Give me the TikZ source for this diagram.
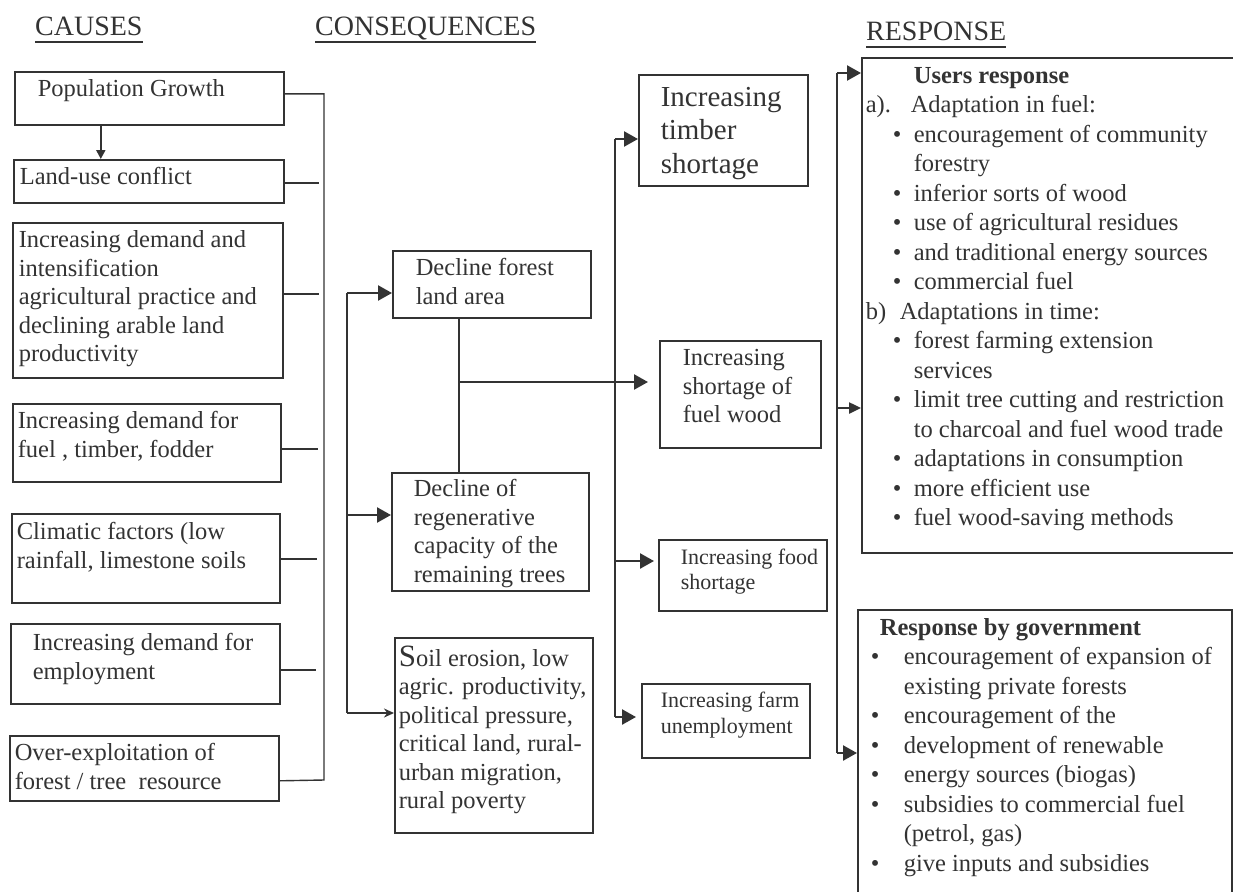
\documentclass[tikz,border=0pt]{standalone}
\usepackage{fontspec}
\setmainfont{Liberation Serif}
\usetikzlibrary{arrows.meta}
\definecolor{ink}{gray}{0.2}
\newcommand\bx[5]{\parbox[c][#2][t]{#1}{\raggedright\leftskip=#3\relax\vspace*{#4}\strut#5}}
\tikzset{
  box/.style={draw=ink, line width=1.6pt, inner sep=0pt, anchor=north west, text=ink,
              font=\fontsize{24.5}{28.5}\selectfont},
  hdr/.style={anchor=base west, inner sep=0pt, text=ink, font=\fontsize{28}{30}\selectfont},
  uline/.style={draw=ink, line width=1.6pt},
  cline/.style={draw=ink, line width=1.4pt},
  conn/.style={draw=ink, line width=2.4pt},
  arr/.style={conn, -{Triangle[length=14pt,width=15pt]}},
  arrm/.style={conn, -{Triangle[length=12pt,width=11pt]}},
  arrs/.style={draw=ink, line width=1.8pt, -{Stealth[length=10pt,width=9pt]}},
}
\begin{document}
\begin{tikzpicture}[x=1pt,y=-1pt]
\useasboundingbox (0,0) rectangle (1233,891);
\clip (0,0) rectangle (1233,891);
\fill[white] (0,0) rectangle (1233,891);

% headers
\node[hdr] (hcau) at (35,36) {CAUSES};
\node[hdr] (hcon) at (315,36) {CONSEQUENCES};
\node[hdr] (hres) at (866,41) {RESPONSE};
\draw[uline] ([yshift=-6pt]hcau.base west) -- ([yshift=-6pt]hcau.base east);
\draw[uline] ([yshift=-6pt]hcon.base west) -- ([yshift=-6pt]hcon.base east);
\draw[uline] ([yshift=-6pt]hres.base west) -- ([yshift=-6pt]hres.base east);

% causes
\node[box] (pop) at (14,71) {\bx{269pt}{53pt}{23pt}{5pt}{Population Growth}};
\node[box] (land) at (13,159) {\bx{270pt}{43pt}{6pt}{5pt}{Land-use conflict}};
\node[box] (dem) at (12,222) {\bx{270pt}{155pt}{6pt}{5pt}{Increasing demand and\\intensification\\agricultural practice and\\declining arable land\\productivity}};
\node[box] (fuel) at (12,403) {\bx{268pt}{78pt}{5pt}{5pt}{Increasing demand for\\fuel , timber, fodder}};
\node[box] (clim) at (11,513) {\bx{268pt}{89pt}{5pt}{6pt}{Climatic factors (low\\rainfall, limestone soils}};
\node[box] (emp) at (10,623) {\bx{269pt}{80pt}{22pt}{7pt}{Increasing demand for\\employment}};
\node[box] (over) at (9,735) {\bx{269pt}{65pt}{5pt}{5pt}{Over-exploitation of\\forest / tree\ \ resource}};

\coordinate (cbus) at (324,780);
\draw[cline] ([yshift=4.5pt]pop.east) -| (cbus) -- ([yshift=-12.5pt]over.east);
\draw[cline] ([yshift=-1.5pt]land.east) -- ++(34,0);
\draw[cline] ([yshift=6.5pt]dem.east) -- ++(35,0);
\draw[cline] ([yshift=-6pt]fuel.east) -- ++(36,0);
\draw[cline] ([yshift=-0.5pt]clim.east) -- ++(36,0);
\draw[cline] ([yshift=-6pt]emp.east) -- ++(35,0);
\draw[draw=ink, line width=2pt, -{Triangle[length=9pt,width=9pt]}] ([xshift=-48.5pt]pop.south) -- ([xshift=-48pt]land.north);

% consequences
\node[box] (dfl) at (392,250) {\bx{198pt}{67pt}{23pt}{5pt}{Decline forest\\land area}};
\node[box] (dreg) at (391,472) {\bx{197pt}{118pt}{22pt}{4pt}{Decline of\\regenerative\\capacity of the\\remaining trees}};
\node[box] (soil) at (394,637) {\bx{198pt}{195pt}{4pt}{8pt}{{\fontsize{31}{28.5}\selectfont S}oil erosion, low\\agric. productivity,\\political pressure,\\critical land, rural-\\urban migration,\\rural poverty}};
\node[box, font=\fontsize{29}{33.5}\selectfont] (timber) at (638,74) {\bx{169pt}{111pt}{22pt}{8pt}{Increasing\\timber\\shortage}};
\node[box] (fwood) at (659,340) {\bx{161pt}{107pt}{23pt}{5pt}{Increasing\\shortage of\\fuel wood}};
\node[box, font=\fontsize{22}{25}\selectfont] (food) at (658,539) {\bx{168pt}{71pt}{22pt}{7pt}{Increasing food\\shortage}};
\node[box, font=\fontsize{22}{26}\selectfont] (farm) at (641,683) {\bx{168pt}{74pt}{19pt}{5pt}{Increasing farm\\unemployment}};

\coordinate (ca) at (347,293);
\coordinate (cb) at (347,515);
\coordinate (cc) at (347,713);
\draw[conn] (ca) -- (cc);
\draw[arr] (ca) -- (ca -| dfl.west);
\draw[arr] (cb) -- (cb -| dreg.west);
\draw[arrs] (cc) -- (cc -| soil.west);

\coordinate (jn) at (459,382);
\draw[cline, line width=1.8pt] (jn |- dfl.south) -- (jn |- dreg.north);
\draw[arr, shorten >=11pt] (jn) -- (jn -| fwood.west);

\coordinate (ma) at (615,139);
\coordinate (mb) at (615,561);
\coordinate (mc) at (615,717);
\draw[conn] (ma) -- (mc);
\draw[arr] (ma) -- (ma -| timber.west);
\draw[arr, shorten >=4pt] (mb) -- (mb -| food.west);
\draw[arr, shorten >=5pt] (mc) -- (mc -| farm.west);

% response
\node[box, font=\fontsize{24.5}{29.5}\selectfont] (users) at (861,57) {\bx{400pt}{495pt}{4pt}{5pt}{%
\hspace*{48pt}\textbf{Users response}\\
\makebox[45pt][l]{a).}Adaptation in fuel:\\
\hspace*{27pt}\makebox[21pt][l]{\textbullet}encouragement of community\\
\hspace*{48pt}forestry\\
\hspace*{27pt}\makebox[21pt][l]{\textbullet}inferior sorts of wood\\
\hspace*{27pt}\makebox[21pt][l]{\textbullet}use of agricultural residues\\
\hspace*{27pt}\makebox[21pt][l]{\textbullet}and traditional energy sources\\
\hspace*{27pt}\makebox[21pt][l]{\textbullet}commercial fuel\\
\makebox[34pt][l]{b)}Adaptations in time:\\
\hspace*{27pt}\makebox[21pt][l]{\textbullet}forest farming extension\\
\hspace*{48pt}services\\
\hspace*{27pt}\makebox[21pt][l]{\textbullet}limit tree cutting and restriction\\
\hspace*{48pt}to charcoal and fuel wood trade\\
\hspace*{27pt}\makebox[21pt][l]{\textbullet}adaptations in consumption\\
\hspace*{27pt}\makebox[21pt][l]{\textbullet}more efficient use\\
\hspace*{27pt}\makebox[21pt][l]{\textbullet}fuel wood-saving methods}};

\node[box, font=\fontsize{24.5}{29.5}\selectfont] (gov) at (857,609) {\bx{374pt}{300pt}{13pt}{5pt}{%
\hspace*{9pt}\textbf{Response by government}\\
\makebox[33pt][l]{\textbullet}encouragement of expansion of\\
\hspace*{33pt}existing private forests\\
\makebox[33pt][l]{\textbullet}encouragement of the\\
\makebox[33pt][l]{\textbullet}development of renewable\\
\makebox[33pt][l]{\textbullet}energy sources (biogas)\\
\makebox[33pt][l]{\textbullet}subsidies to commercial fuel\\
\hspace*{33pt}(petrol, gas)\\
\makebox[33pt][l]{\textbullet}give inputs and subsidies}};

\coordinate (ra) at (837,73);
\coordinate (rb) at (837,408);
\coordinate (rc) at (837,753);
\draw[conn] (ra) -- (rc);
\draw[arr] (ra) -- (ra -| users.west);
\draw[arrm] (rb) -- (rb -| users.west);
\draw[arr] (rc) -- (rc -| gov.west);
\end{tikzpicture}
\end{document}
